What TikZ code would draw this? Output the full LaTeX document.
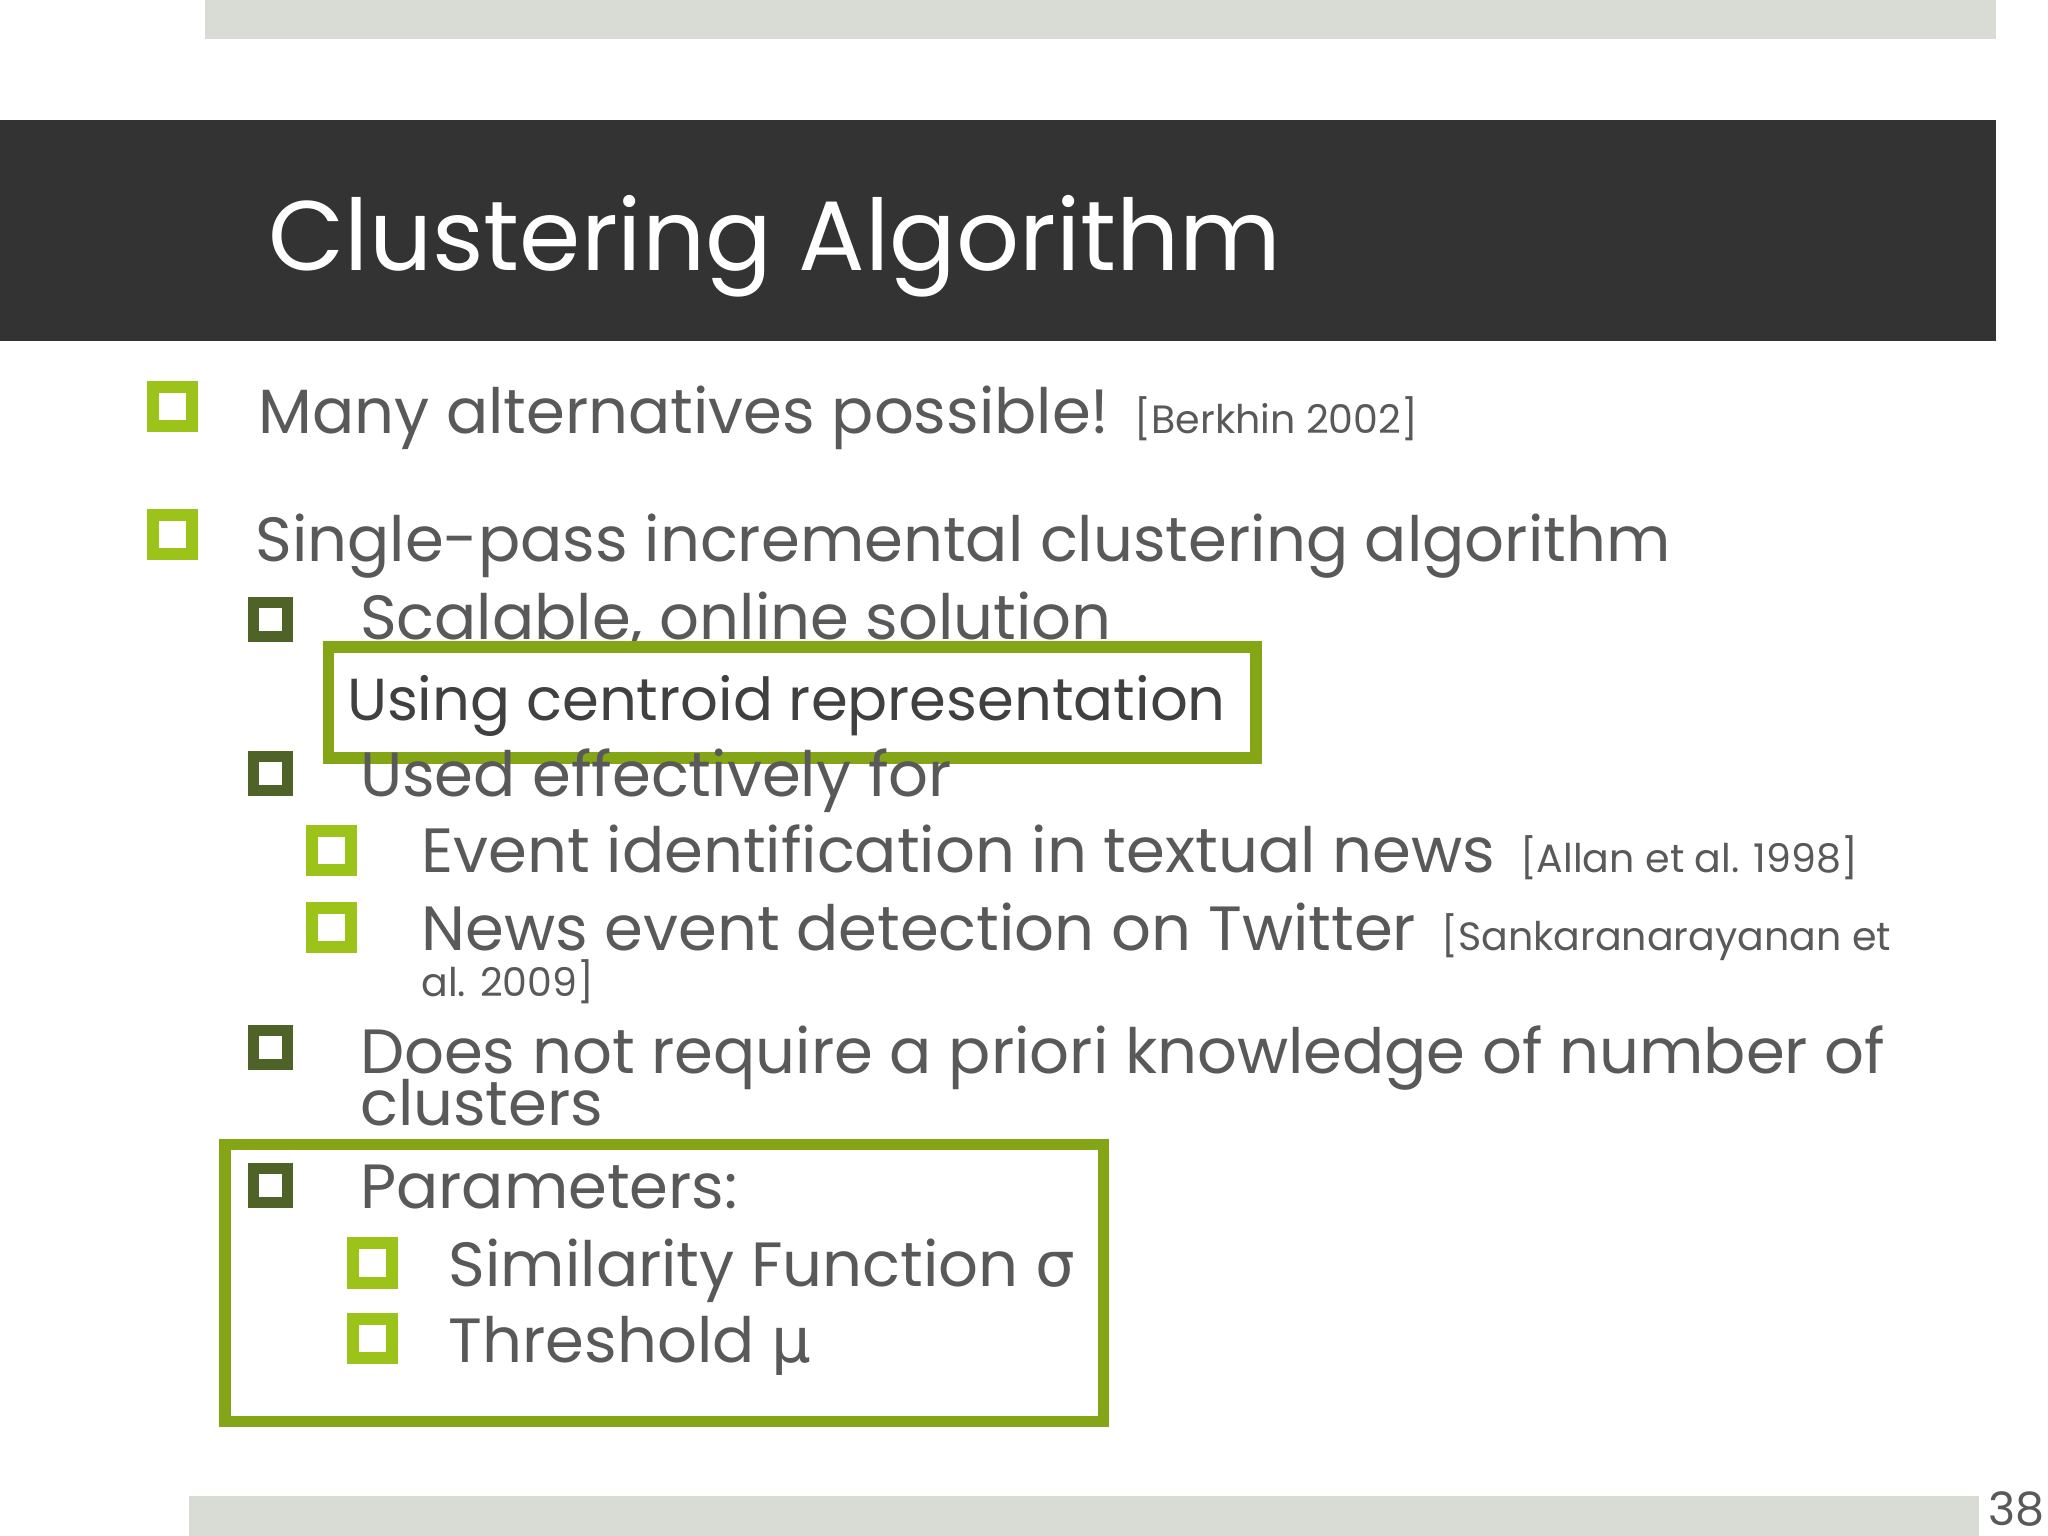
\documentclass[tikz,border=0pt]{standalone}
\usepackage{fontspec}
\setmainfont{Poppins}
\newfontfamily\gr{DejaVu Sans}
\definecolor{txt}{HTML}{595959}
\definecolor{lg}{HTML}{9BC31A}
\definecolor{dg}{HTML}{4F6228}
\definecolor{bar}{HTML}{D9DCD5}
\tikzset{
 t/.style={anchor=base west,inner sep=0pt,text=txt,font=\fontsize{13.6}{16}\selectfont},
 ts/.style={anchor=base west,inner sep=0pt,text=txt,font=\fontsize{8.6}{10}\selectfont},
 bl/.style={draw=lg,line width=2.6pt,minimum size=0.3cm,inner sep=0pt,fill=white},
 bd/.style={draw=dg,line width=2.4pt,minimum size=0.26cm,inner sep=0pt,fill=white},
 gbox/.style={draw=lg!85!black,line width=2.5pt},
}
\begin{document}
\begin{tikzpicture}[x=0.01cm,y=-0.01cm]
\useasboundingbox (0,0) rectangle (1568,1176);
\fill[white] (0,0) rectangle (1568,1176);
\fill[bar] (157,0) rectangle (1528,30);
\fill[black!80] (0,92) rectangle (1528,261);
\node[anchor=base west,inner sep=0pt,text=white,font=\fontsize{21.5}{26}\selectfont] (title) at (205,207) {Clustering Algorithm};
\node[bl] (b1) at (132,311) {};
\node[t] (l1) at (197,332) {Many alternatives possible!};
\node[ts] (r1) at ([xshift=0.18cm]l1.base east) {[Berkhin 2002]};
\node[bl] (b2) at (132,409) {};
\node[t] (l2) at (195,430) {Single-pass incremental clustering algorithm};
\node[bd] (b3) at (207,474) {};
\node[t] (l3) at (275,490) {Scalable, online solution};
\node[gbox,fill=white,minimum width=7.1cm,minimum height=0.85cm,anchor=north west] (box1) at (247,491) {};
\node[t,text=black!75,font=\fontsize{12.9}{15}\selectfont] (l4) at (265,552) {Using centroid representation};
\node[bd] (b4) at (207,592) {};
\node[t] (l5) at (275,610) {Used effectively for};
\node[bl] (b5) at (254,651) {};
\node[t] (l6) at (322,668) {Event identification in textual news};
\node[ts] (r6) at ([xshift=0.18cm]l6.base east) {[Allan et al. 1998]};
\node[bl] (b6) at (254,710) {};
\node[t] (l7) at (322,728) {News event detection on Twitter};
\node[ts] (r7) at ([xshift=0.18cm]l7.base east) {[Sankaranarayanan et};
\node[ts] (r7b) at (322,763) {al. 2009]};
\node[bd] (b7) at (207,802) {};
\node[t] (l8) at (275,822) {Does not require a priori knowledge of number of};
\node[t] (l8b) at (275,862) {clusters};
\node[gbox,minimum width=6.72cm,minimum height=2.12cm,anchor=north west] (box2) at (168,872) {};
\node[bd] (b8) at (207,908) {};
\node[t] (l9) at (275,925) {Parameters:};
\node[bl] (b9) at (285,967) {};
\node[t] (l10) at (343,985) {Similarity Function {\gr σ}};
\node[bl] (b10) at (285,1025) {};
\node[t] (l11) at (343,1043) {Threshold {\gr μ}};
\fill[bar] (145,1145) rectangle (1515,1176);
\node[anchor=base west,inner sep=0pt,text=txt,font=\fontsize{10}{12}\selectfont] (pg) at (1522,1168) {38};
\end{tikzpicture}
\end{document}
